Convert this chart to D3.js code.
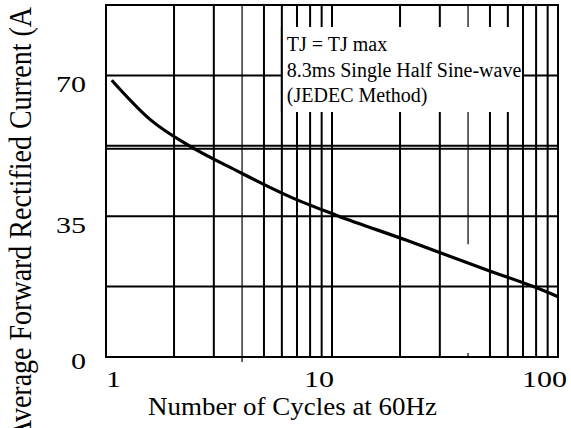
<!DOCTYPE html>
<html>
<head>
<meta charset="utf-8">
<script src="https://cdn.jsdelivr.net/npm/d3@7"></script>
<style>
  body { margin: 0; background: #fff; }
  svg { display: block; font-family: "Liberation Serif", "Times New Roman", serif; }
</style>
</head>
<body>
<div id="chart"></div>
<script>
// curve (cycles at 60Hz -> amps)
const cycles = [1.06, 1.57, 2.35, 3.76, 6.72, 10.5, 21.4, 47.5, 77.8, 100];
const current = [68.8, 59.0, 52.4, 46.4, 39.5, 35.2, 29.0, 21.8, 17.5, 15.0];
const xTicks = [1, 10, 100];
const yTicks = [0, 35, 70];
const yGrid = [17.5, 35, 52.5, 70];
const noteLines = ['TJ = TJ max', '8.3ms Single Half Sine-wave', '(JEDEC Method)'];

const w = 571;
const h = 428;
const plotL = 106, plotR = 558, plotT = 5, plotB = 357;

const svg = d3.select('#chart').append('svg')
  .attr('width', w)
  .attr('height', h);

const x = d3.scaleLog().domain([1, 100]).range([plotL, plotR]);
const y = d3.scaleLinear().domain([0, 87.5]).range([plotB, plotT]);

// vertical grid (every 1..9 of each decade)
const minor = x.ticks().filter(d => d > 1 && d < 100);
svg.append('g').selectAll('line').data(minor).enter().append('line')
  .attr('x1', d => x(d)).attr('x2', d => x(d))
  .attr('y1', plotT)
  .attr('y2', d => (d === 4) ? plotB + 5 : plotB)
  .attr('stroke', '#000')
  .attr('stroke-width', d => (d === 4 || d === 40) ? 1.2 : 2)
  .attr('stroke-dasharray', d => d === 40 ? (y(28) - plotT) + ',' + (plotB - y(28) - 4) + ',9' : null);

// horizontal grid
svg.append('g').selectAll('line').data(yGrid).enter().append('line')
  .attr('x1', plotL).attr('x2', plotR)
  .attr('y1', d => y(d)).attr('y2', d => y(d))
  .attr('stroke', '#000').attr('stroke-width', 2);
// the 52.5 line is drawn double
svg.append('line')
  .attr('x1', plotL).attr('x2', plotR)
  .attr('y1', y(52.5) + 3).attr('y2', y(52.5) + 3)
  .attr('stroke', '#000').attr('stroke-width', 2);

// frame
svg.append('rect')
  .attr('x', plotL).attr('y', plotT)
  .attr('width', plotR - plotL).attr('height', plotB - plotT)
  .attr('fill', 'none').attr('stroke', '#000').attr('stroke-width', 2);

// note box, white over the grid, side walls on the 6 and 70 lines
const bx0 = x(6), bx1 = x(70);
svg.append('rect')
  .attr('x', bx0).attr('y', 27)
  .attr('width', bx1 - bx0).attr('height', 85)
  .attr('fill', '#fff');
[bx0, bx1].forEach(v => {
  svg.append('line')
    .attr('x1', v).attr('x2', v).attr('y1', 27).attr('y2', 112)
    .attr('stroke', '#000').attr('stroke-width', 2);
});
svg.append('g').selectAll('text').data(noteLines).enter().append('text')
  .attr('x', bx0 + 5)
  .attr('y', (d, i) => 51 + i * 25.5)
  .attr('font-size', 20)
  .text(d => d);

// the curve
const pts = cycles.map((c, i) => [c, current[i]]);
const line = d3.line()
  .x(d => x(d[0]))
  .y(d => y(d[1]))
  .curve(d3.curveMonotoneX);
svg.append('path')
  .datum(pts)
  .attr('d', line)
  .attr('fill', 'none')
  .attr('stroke', '#000')
  .attr('stroke-width', 3.2);

// tick labels
svg.append('g').selectAll('text').data(xTicks).enter().append('text')
  .attr('transform', (d, i) => 'translate(' + (i === 0 ? x(d) : x(d) + (i === 2 ? 9 : 2)) + ',387) scale(1.25,1)')
  .attr('text-anchor', (d, i) => i === 0 ? 'start' : 'end')
  .attr('font-size', 24)
  .text(d => d);
svg.append('g').selectAll('text').data(yTicks).enter().append('text')
  .attr('transform', d => 'translate(86,' + (y(d) + (d === 0 ? 12 : 17)) + ') scale(1.25,1)')
  .attr('text-anchor', 'end')
  .attr('font-size', 24)
  .text(d => d);

// axis titles
svg.append('text')
  .attr('x', 148).attr('y', 415)
  .attr('font-size', 25)
  .attr('textLength', 289)
  .attr('lengthAdjust', 'spacingAndGlyphs')
  .text('Number of Cycles at 60Hz');
// y title runs past both edges, as in the source
svg.append('text')
  .attr('transform', 'translate(31,7) scale(1.12,1) rotate(-90)')
  .attr('text-anchor', 'end')
  .attr('font-size', 28)
  .text('Average Forward Rectified Current (A');
</script>
</body>
</html>
